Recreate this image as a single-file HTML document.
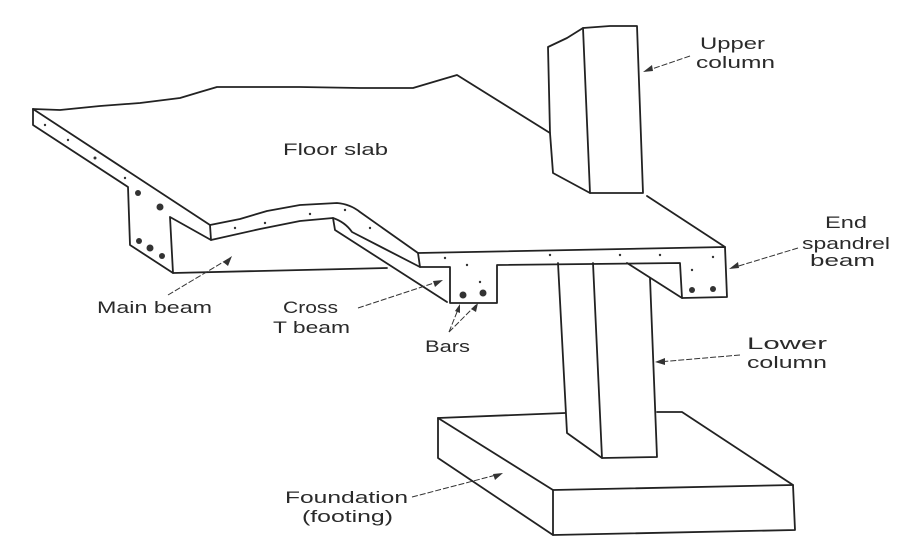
<!DOCTYPE html>
<html><head><meta charset="utf-8"><style>
html,body{margin:0;padding:0;background:#fff;}
svg{display:block;}
text{font-family:"Liberation Sans",sans-serif;font-size:17px;fill:#2a2a2a;}
</style></head><body>
<svg width="919" height="546" viewBox="0 0 919 546" xmlns="http://www.w3.org/2000/svg">
<g fill="none" stroke="#222" stroke-width="1.8" stroke-linejoin="round" stroke-linecap="round">
<!-- slab top wavy back edge -->
<path d="M33,109 L60,110 L100,106 L140,103 L180,98 L200,92 L217,87 L300,87 L360,88 L413,88 L440,80 L457,75 L550,133"/>
<!-- left slab face -->
<path d="M33,109 L33,125 L128,187 L130,245 L173,273 L387,268"/>
<path d="M33,109 L210,225 L211,240 L170,217 L173,273"/>
<!-- front strip top wavy -->
<path d="M210,225 L240,219 L267,211 L300,205 L337,203 Q350,204 360,212 L418,253"/>
<!-- strip bottom -->
<path d="M211,240 L260,229 L300,221 L333,218 Q345,222 352,232 L420,267"/>
<!-- cross beam back edge -->
<path d="M333,218 L335,230 L447,302"/>
<!-- front slab -->
<path d="M418,253 L725,247 L727,297 L682,298 L680,263 L497,265 L497,303 L450,303 L450,267 L420,267 L418,253"/>
<path d="M627,263 L682,298"/>
<!-- slab back right edge -->
<path d="M647,196 L725,247"/>
<!-- upper column -->
<path d="M550,133 L548,47 L567,38 L583,28 L610,26 L637,26 L643,193 L590,193 L553,173 L550,133"/>
<path d="M583,28 L590,193"/>
<!-- lower column -->
<path d="M558,263 L567,433 L602,458 L657,457 L650,278"/>
<path d="M593,263 L602,458"/>
<!-- footing -->
<path d="M565,413 L438,418 L438,458 L553,535 L795,530 L793,485 L682,412 L657,412"/>
<path d="M438,418 L553,490 L793,485"/>
<path d="M553,490 L553,535"/>
</g>
<!-- bars -->
<g fill="#333">
<circle cx="138" cy="193" r="3"/><circle cx="160" cy="207" r="3.5"/>
<circle cx="139" cy="241" r="3"/><circle cx="150" cy="248" r="3.5"/><circle cx="162" cy="256" r="3"/>
<circle cx="463" cy="295" r="3.5"/><circle cx="483" cy="293" r="3.5"/>
<circle cx="692" cy="290" r="3"/><circle cx="713" cy="289" r="3"/>
<circle cx="45" cy="125" r="1.2"/><circle cx="68" cy="140" r="1.2"/><circle cx="95" cy="158" r="1.5"/><circle cx="125" cy="178" r="1.2"/>
<circle cx="235" cy="228" r="1.2"/><circle cx="265" cy="223" r="1.2"/><circle cx="310" cy="214" r="1.2"/><circle cx="345" cy="210" r="1.2"/><circle cx="370" cy="228" r="1.2"/>
<circle cx="445" cy="258" r="1.2"/><circle cx="467" cy="265" r="1.2"/><circle cx="480" cy="282" r="1.2"/><circle cx="550" cy="255" r="1.2"/><circle cx="620" cy="255" r="1.2"/><circle cx="660" cy="255" r="1.2"/><circle cx="713" cy="257" r="1.2"/><circle cx="692" cy="270" r="1.2"/>
</g>
<!-- leader arrows -->
<g fill="none" stroke="#333" stroke-width="1" stroke-dasharray="6,2">
<path d="M690,56 L646,71"/><path d="M798,248 L732,268"/><path d="M740,355 L658,362"/>
<path d="M168,295 L230,258"/><path d="M358,308 L440,281"/><path d="M412,497 L500,474"/>
<path d="M449,332 L459,307"/><path d="M449,332 L476,305"/>
</g>
<g fill="#333">
<path d="M643,72 l9,-7 l1,6z"/><path d="M729,269 l9,-7 l1,6z"/><path d="M655,362 l10,-4 l0,7z"/>
<path d="M232,256 l-4,10 l-5,-4z"/><path d="M443,280 l-8,7 l-2,-6z"/><path d="M503,473 l-8,7 l-2,-6z"/>
<path d="M460,304 l0,9 l-5,-2z"/><path d="M478,303 l-2,9 l-5,-3z"/>
</g>
<!-- labels -->
<text x="283" y="155" textLength="105" lengthAdjust="spacingAndGlyphs">Floor slab</text>
<text x="700" y="49" textLength="65" lengthAdjust="spacingAndGlyphs">Upper</text>
<text x="696" y="68" textLength="79" lengthAdjust="spacingAndGlyphs">column</text>
<text x="825" y="228" textLength="42" lengthAdjust="spacingAndGlyphs">End</text>
<text x="802" y="249" textLength="88" lengthAdjust="spacingAndGlyphs">spandrel</text>
<text x="810" y="266" textLength="65" lengthAdjust="spacingAndGlyphs">beam</text>
<text x="97" y="313" textLength="115" lengthAdjust="spacingAndGlyphs">Main beam</text>
<text x="283" y="313" textLength="55" lengthAdjust="spacingAndGlyphs">Cross</text>
<text x="273" y="333" textLength="77" lengthAdjust="spacingAndGlyphs">T beam</text>
<text x="425" y="352" textLength="45" lengthAdjust="spacingAndGlyphs">Bars</text>
<text x="747" y="349" textLength="80" lengthAdjust="spacingAndGlyphs">Lower</text>
<text x="747" y="368" textLength="80" lengthAdjust="spacingAndGlyphs">column</text>
<text x="285" y="503" textLength="123" lengthAdjust="spacingAndGlyphs">Foundation</text>
<text x="302" y="522" textLength="91" lengthAdjust="spacingAndGlyphs">(footing)</text>
</svg>
</body></html>
